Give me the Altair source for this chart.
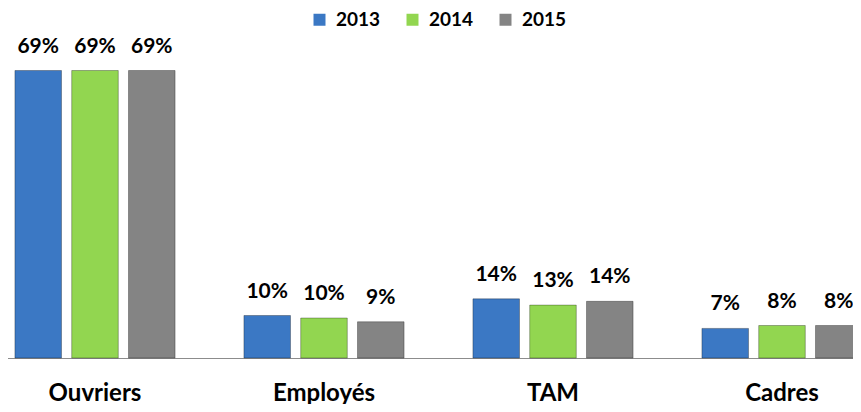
import altair as alt
import pandas as pd

categories = ["Ouvriers", "Employés", "TAM", "Cadres"]
years = ["2013", "2014", "2015"]
v2013 = [69.0, 10.2, 14.2, 7.1]
v2014 = [69.0, 9.6, 12.7, 7.8]
v2015 = [69.0, 8.7, 13.6, 7.8]
colors = ["#3b78c4", "#92d650", "#848484"]

rows = []
for yr, vals in zip(years, [v2013, v2014, v2015]):
    for c, v in zip(categories, vals):
        rows.append({"cat": c, "year": yr, "value": v})
df = pd.DataFrame(rows)

FONT = "Lato"

base = alt.Chart(df).encode(
    x=alt.X(
        "cat:N",
        sort=categories,
        scale=alt.Scale(range=[-27.5, 888.5], paddingInner=0.256, paddingOuter=0.128),
        axis=alt.Axis(
            title=None, labelAngle=0, ticks=False, tickSize=0, grid=False,
            domainColor="#8c8c8c", domainWidth=1,
            labelFont=FONT, labelFontSize=24, labelFontWeight="bold",
            labelColor="black", labelPadding=23, labelBaseline="top",
        ),
    ),
    xOffset=alt.XOffset(
        "year:N", sort=years,
        scale=alt.Scale(paddingInner=0.18, paddingOuter=0.09),
    ),
    y=alt.Y("value:Q", scale=alt.Scale(domain=[0, 84], nice=False, zero=True), axis=None),
)

bars = base.mark_bar(stroke="#000000", strokeOpacity=0.3, strokeWidth=1).encode(
    color=alt.Color(
        "year:N", sort=years,
        scale=alt.Scale(domain=years, range=colors),
        legend=alt.Legend(
            title=None, orient="none", direction="horizontal",
            legendX=302, legendY=2, symbolType="square", symbolSize=144,
            symbolStrokeWidth=0,
            labelFont=FONT, labelFontSize=19, labelFontWeight="bold",
            labelColor="black", labelOffset=7, columnPadding=22, padding=0,
        ),
    )
)

labels = base.transform_calculate(
    label="format(datum.value, '.0f') + '%'"
).mark_text(
    font=FONT, fontSize=21, fontWeight="bold", color="black",
    baseline="alphabetic", dy=-18,
).encode(text="label:N")

chart = alt.layer(bars, labels).properties(
    width=845, height=350,
    autosize=alt.AutoSizeParams(type="none"),
    padding={"left": 0, "top": 0, "right": 0, "bottom": 46},
).configure_view(stroke=None)

chart.save("out.html", embed_options={"renderer": "svg", "actions": False})
